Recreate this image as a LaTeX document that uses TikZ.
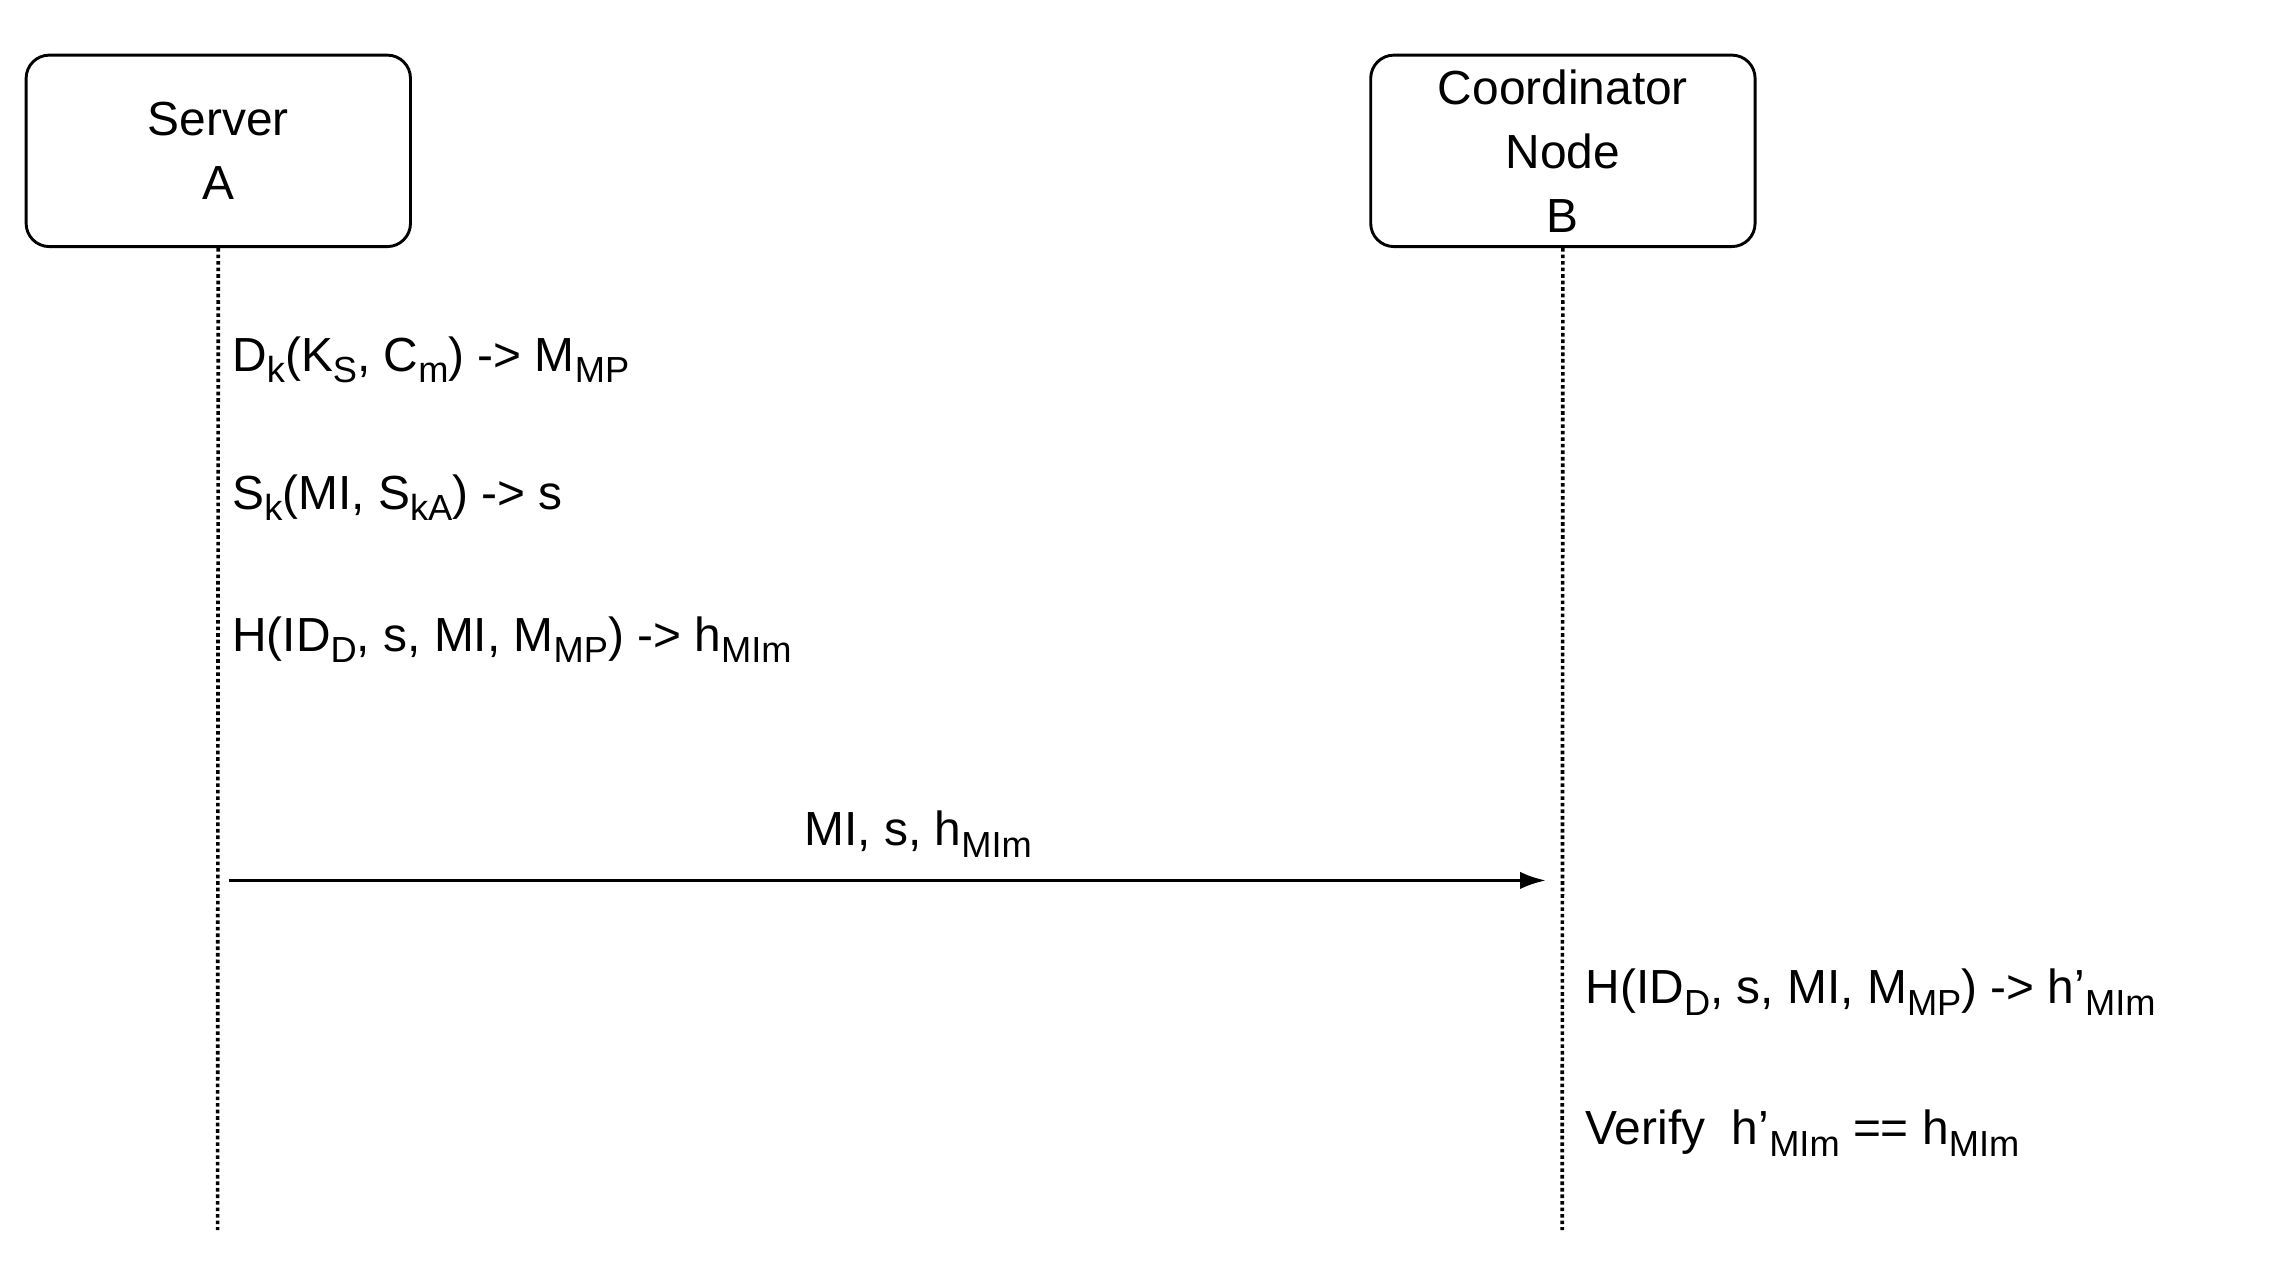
\documentclass[tikz,border=0pt]{standalone}
\usepackage{fontspec}
\setmainfont{Liberation Sans}
\newcommand\sbx[1]{\raisebox{-8pt}{\fontsize{25}{25}\selectfont #1}}
\begin{document}
\begin{tikzpicture}[x=1pt,y=-1pt,
  actor/.style={draw,line width=2pt,rounded corners=16pt,minimum width=265pt,minimum height=132pt,align=center,font=\fontsize{33}{44}\selectfont},
  life/.style={line width=2.5pt,dotted},
  lbl/.style={anchor=base west,inner sep=0pt,font=\fontsize{33}{40}\selectfont},
  msg/.style={line width=2.5pt,-{Latex[length=18pt,width=12pt]}}]
\useasboundingbox (0,0) rectangle (1565,869);
\usetikzlibrary{arrows.meta}
\node[actor] (A) at (150.5,104) {Server\\A};
\node[actor] (B) at (1077.5,104) {Coordinator\\Node\\B};
\coordinate (Ae) at (150,848);
\coordinate (Be) at (1077,848);
\draw[life] (A.south) -- (Ae);
\draw[life] (B.south) -- (Be);
\node[lbl] (t1) at (160,256) {D\sbx{k}(K\sbx{S}, C\sbx{m}) -> M\sbx{MP}};
\node[lbl] (t2) at (160,351) {S\sbx{k}(MI, S\sbx{kA}) -> s};
\node[lbl] (t3) at (160,449) {H(ID\sbx{D}, s, MI, M\sbx{MP}) -> h\sbx{MIm}};
\coordinate (m1) at (158,607);
\coordinate (m2) at (1066,607);
\draw[msg] (m1) -- (m2);
\node[lbl,anchor=base] (t4) at (633,583) {MI, s, h\sbx{MIm}};
\node[lbl] (t5) at (1093,692) {H(ID\sbx{D}, s, MI, M\sbx{MP}) -> h'\sbx{MIm}};
\node[lbl] (t6) at (1093,789) {Verify\ \ h'\sbx{MIm} == h\sbx{MIm}};
\end{tikzpicture}
\end{document}
